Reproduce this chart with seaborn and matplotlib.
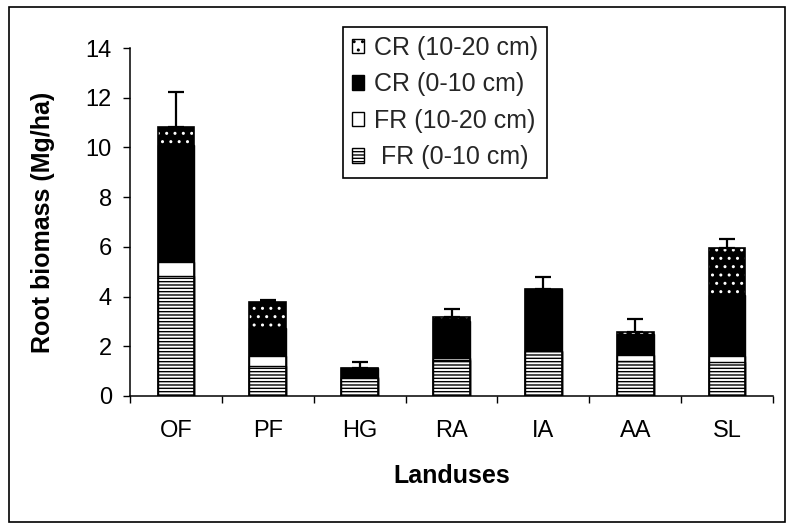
import numpy as np
import pandas as pd
import matplotlib
matplotlib.use('Agg')
import matplotlib.pyplot as plt
from matplotlib.patches import Patch, Rectangle
import seaborn as sns

# values (Mg/ha)
landuses = ['OF', 'PF', 'HG', 'RA', 'IA', 'AA', 'SL']
fr_0_10 = [4.83, 1.22, 0.72, 1.45, 1.80, 1.40, 1.36]
fr_10_20 = [0.57, 0.40, 0.03, 0.07, 0.02, 0.24, 0.26]
cr_0_10 = [4.70, 1.13, 0.38, 1.50, 2.48, 0.84, 2.45]
cr_10_20 = [0.71, 1.05, 0.00, 0.15, 0.00, 0.10, 1.90]
err_up = [1.43, 0.05, 0.23, 0.33, 0.47, 0.50, 0.33]

sns.set_theme(style='ticks')
plt.rcParams['font.family'] = ['Liberation Sans', 'DejaVu Sans']
plt.rcParams['hatch.linewidth'] = 1.0

# stacked via cumulative heights, tallest drawn first
df = pd.DataFrame({'landuse': landuses})
df['s1'] = np.array(fr_0_10)
df['s2'] = df['s1'] + np.array(fr_10_20)
df['s3'] = df['s2'] + np.array(cr_0_10)
df['s4'] = df['s3'] + np.array(cr_10_20)

fig = plt.figure(figsize=(7.91, 5.26), dpi=100)
ax = fig.add_axes([130 / 791, 130 / 526, 643 / 791, 348 / 526])

bw = 0.4
sns.barplot(data=df, x='landuse', y='s4', color='black', saturation=1,
            width=bw, errorbar=None, ax=ax)
for b in ax.containers[-1]:
    b.set_hatch('..')
    b.set_edgecolor('white')
    b.set_linewidth(0)

sns.barplot(data=df, x='landuse', y='s3', color='black', saturation=1,
            width=bw, errorbar=None, edgecolor='black', linewidth=1, ax=ax)
sns.barplot(data=df, x='landuse', y='s2', color='white', saturation=1,
            width=bw, errorbar=None, edgecolor='black', linewidth=1, ax=ax)
sns.barplot(data=df, x='landuse', y='s1', color='white', saturation=1,
            width=bw, errorbar=None, edgecolor='black', linewidth=1,
            hatch='-----', ax=ax)
# outline of the full stack
sns.barplot(data=df, x='landuse', y='s4', fill=False, width=bw, errorbar=None,
            edgecolor='black', linewidth=1.2, ax=ax)

xpos = np.arange(len(landuses))
ax.errorbar(xpos, df['s4'], yerr=[np.zeros(len(landuses)), err_up],
            fmt='none', ecolor='black', elinewidth=1.6, capsize=6,
            capthick=1.6, zorder=5)

ax.set_ylim(0, 14)
ax.set_yticks(range(0, 15, 2))
ax.set_xlim(-0.5, len(landuses) - 0.5)
ax.set_xticks(np.arange(-0.5, len(landuses), 1), minor=True)
ax.tick_params(axis='x', which='major', length=0, pad=17, labelsize=17,
               colors='black')
ax.tick_params(axis='x', which='minor', length=5, width=1, direction='out',
               color='black')
ax.tick_params(axis='y', length=5, width=1, pad=8, labelsize=17,
               colors='black', direction='out')
sns.despine(ax=ax)
for s in ['left', 'bottom']:
    ax.spines[s].set_color('black')
    ax.spines[s].set_linewidth(1.1)

ax.set_ylabel('Root biomass (Mg/ha)', fontsize=18, fontweight='bold',
              color='black')
ax.set_xlabel('Landuses', fontsize=18, fontweight='bold', color='black')
ax.yaxis.set_label_coords(-0.117, 0.5)
ax.xaxis.set_label_coords(0.5, -0.195)

handles = [
    Patch(facecolor='white', edgecolor='black', hatch='..'),
    Patch(facecolor='black', edgecolor='black'),
    Patch(facecolor='white', edgecolor='black'),
    Patch(facecolor='white', edgecolor='black', hatch='-----'),
]
labels = ['CR (10-20 cm)', 'CR (0-10 cm)', 'FR (10-20 cm)', ' FR (0-10 cm)']
leg = fig.legend(handles, labels, loc='upper left',
                 bbox_to_anchor=(343 / 791, 1 - 27 / 526),
                 bbox_transform=fig.transFigure, borderaxespad=0,
                 fontsize=18, frameon=True, fancybox=False, shadow=False,
                 handlelength=0.5, handleheight=0.5, handletextpad=0.4,
                 labelspacing=0.5, borderpad=0.35)
leg.get_frame().set_edgecolor('black')
leg.get_frame().set_linewidth(1.2)
leg.get_frame().set_alpha(1)

# outer border of the chart area
fig.patches.append(Rectangle((9 / 791, 4 / 526), 776 / 791, 515 / 526,
                             transform=fig.transFigure, fill=False,
                             edgecolor='black', linewidth=1.2))

fig.savefig('out.png', dpi=100)
